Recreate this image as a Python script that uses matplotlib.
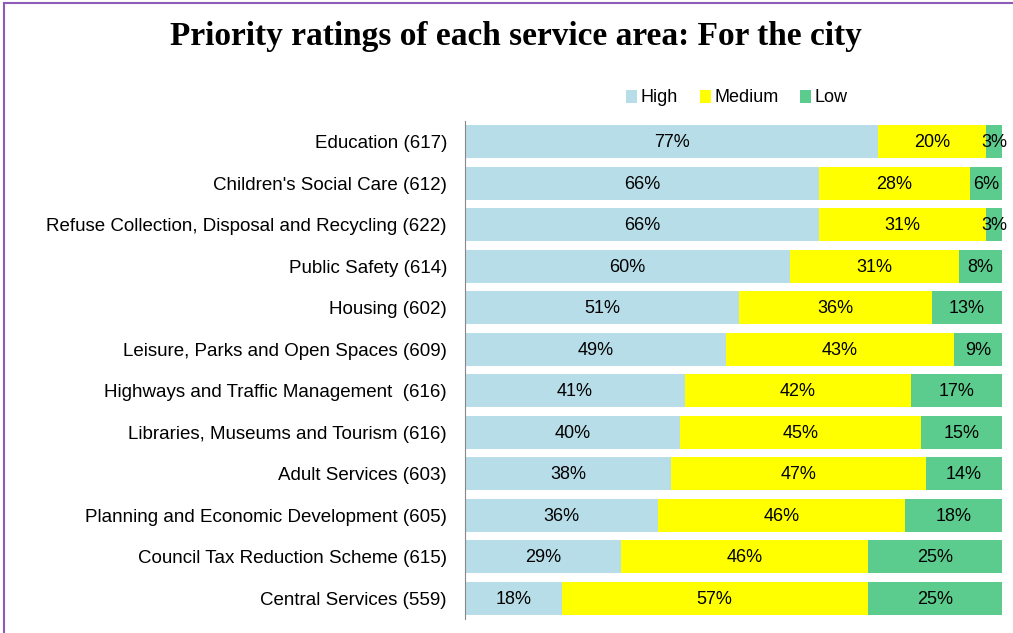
import numpy as np
import matplotlib
matplotlib.use('Agg')
import matplotlib.pyplot as plt
from matplotlib.lines import Line2D

categories = ["Education (617)", "Children's Social Care (612)",
              "Refuse Collection, Disposal and Recycling (622)",
              "Public Safety (614)", "Housing (602)",
              "Leisure, Parks and Open Spaces (609)",
              "Highways and Traffic Management  (616)",
              "Libraries, Museums and Tourism (616)",
              "Adult Services (603)",
              "Planning and Economic Development (605)",
              "Council Tax Reduction Scheme (615)",
              "Central Services (559)"]
high = [77, 66, 66, 60, 51, 49, 41, 40, 38, 36, 29, 18]
medium = [20, 28, 31, 31, 36, 43, 42, 45, 47, 46, 46, 57]
low = [3, 6, 3, 8, 13, 9, 17, 15, 14, 18, 25, 25]

series_names = ["High", "Medium", "Low"]
colors = ["#B7DDE8", "#FFFF00", "#5BCC8D"]

plt.rcParams["font.family"] = ["Liberation Sans", "DejaVu Sans"]

fig = plt.figure(figsize=(10.13, 6.33), dpi=100)
ax = fig.add_axes([465 / 1013, 1 - 619 / 633, 537 / 1013, 498 / 633])

data = np.array([high, medium, low], dtype=float)
shares = data / data.sum(axis=0) * 100  # 100% stacked
y = np.arange(len(categories))
left = np.zeros(len(categories))
for k in range(3):
    ax.barh(y, shares[k], left=left, height=0.8, color=colors[k],
            label=series_names[k])
    for i in range(len(categories)):
        ax.text(left[i] + shares[k][i] / 2, y[i] + 0.03, "%d%%" % data[k][i],
                ha='center', va='center', fontsize=13, color='black')
    left += shares[k]

ax.set_xlim(0, 100)
ax.set_ylim(len(categories) - 0.5, -0.5)
ax.set_yticks(y)
ax.set_yticklabels(categories, fontsize=13.5)
ax.tick_params(axis='y', length=0, pad=13)
ax.set_xticks([])
for s in ['top', 'right', 'bottom']:
    ax.spines[s].set_visible(False)
ax.spines['left'].set_color('#888888')

leg = fig.legend(loc='center', bbox_to_anchor=(737 / 1013, 1 - 98 / 633),
                 ncol=3, frameon=False, fontsize=13, handlelength=0.6,
                 handleheight=0.7, handletextpad=0.2, columnspacing=1.2)

fig.text(516 / 1013, 1 - 36 / 633, "Priority ratings of each service area: For the city",
         ha='center', va='center', fontsize=24, fontweight='bold',
         family=['Liberation Serif', 'DejaVu Serif'])

# purple frame (left and top edges visible)
fig.lines.append(Line2D([4 / 1013, 4 / 1013], [0, 1 - 3 / 633],
                        transform=fig.transFigure, color='#8E5CB8', lw=1.5))
fig.lines.append(Line2D([4 / 1013, 1], [1 - 3 / 633, 1 - 3 / 633],
                        transform=fig.transFigure, color='#8E5CB8', lw=1.5))

plt.savefig('out.png', dpi=100)
